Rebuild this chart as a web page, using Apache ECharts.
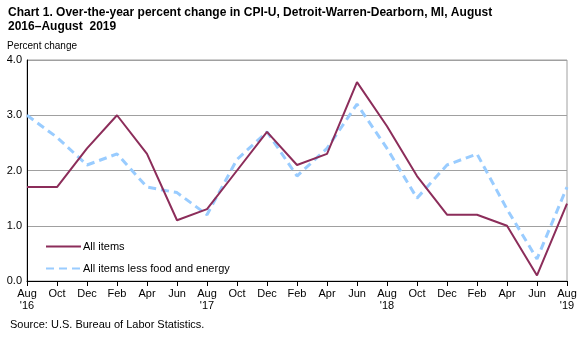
<!DOCTYPE html>
<html>
<head>
<meta charset="utf-8">
<script src="https://cdn.jsdelivr.net/npm/echarts@6/dist/echarts.min.js"></script>
<style>
  html, body { margin: 0; padding: 0; background: #fff; }
  #chart { width: 587px; height: 337px; }
</style>
</head>
<body>
<div id="chart"></div>
<script>
// Bimonthly periods, August 2016 through August 2019
const periods = ['Aug\n\'16', 'Oct', 'Dec', 'Feb', 'Apr', 'Jun', 'Aug\n\'17', 'Oct', 'Dec', 'Feb',
                 'Apr', 'Jun', 'Aug\n\'18', 'Oct', 'Dec', 'Feb', 'Apr', 'Jun', 'Aug\n\'19'];

// Over-the-year percent change
const allItems = [1.7, 1.7, 2.4, 3.0, 2.3, 1.1, 1.3, 2.0, 2.7, 2.1, 2.3, 3.6, 2.8, 1.9, 1.2, 1.2, 1.0, 0.1, 1.4];
const coreItems = [3.0, 2.6, 2.1, 2.3, 1.7, 1.6, 1.2, 2.2, 2.7, 1.9, 2.4, 3.2, 2.4, 1.5, 2.1, 2.3, 1.3, 0.4, 1.7];

const seriesNames = ['All items', 'All items less food and energy'];

const FONT = 'Liberation Sans, Arial, sans-serif';

const chart = echarts.init(document.getElementById('chart'), null, { renderer: 'canvas' });

chart.setOption({
  backgroundColor: '#ffffff',
  animation: false,
  graphic: [
    {
      // Two-line heading, set slightly condensed
      type: 'text', x: 8, y: 6, scaleX: 0.89, originX: 0, originY: 0,
      style: {
        text: 'Chart 1. Over-the-year percent change in CPI-U, Detroit-Warren-Dearborn, MI, August\n2016\u2013August  2019',
        font: 'bold 13.5px ' + FONT, fill: '#000', lineHeight: 13.5,
        verticalAlign: 'top'
      }
    },
    {
      type: 'text', left: 7, top: 41,
      style: { text: 'Percent change', font: '10px ' + FONT, fill: '#000' }
    },
    {
      type: 'text', left: 10, top: 319,
      style: { text: 'Source: U.S. Bureau of Labor Statistics.', font: '11px ' + FONT, fill: '#000' }
    }
  ],
  legend: {
    orient: 'vertical',
    left: 45,
    top: 241,
    padding: 0,
    itemWidth: 35,
    itemHeight: 12,
    itemGap: 11,
    itemStyle: { opacity: 0 },
    textStyle: { fontFamily: FONT, fontSize: 11, color: '#000', padding: [0, 0, 0, -3] },
    data: seriesNames
  },
  grid: {
    left: 27, right: 20, top: 60, bottom: 56,
    show: true, borderColor: '#a0a0a0', borderWidth: 1
  },
  xAxis: {
    type: 'category',
    data: periods,
    boundaryGap: false,
    axisLine: { lineStyle: { color: '#000', width: 1 } },
    axisTick: { length: 5, lineStyle: { color: '#000' }, alignWithLabel: true },
    axisLabel: { fontFamily: FONT, fontSize: 11, color: '#000', margin: 7, lineHeight: 12, interval: 0 },
    splitLine: { show: false }
  },
  yAxis: {
    type: 'value',
    min: 0, max: 4, interval: 1,
    axisLine: { show: true, lineStyle: { color: '#000', width: 1 } },
    axisTick: { show: false },
    axisLabel: { fontFamily: FONT, fontSize: 11, color: '#000', margin: 5, formatter: v => v.toFixed(1) },
    splitLine: { lineStyle: { color: '#a0a0a0', width: 1 } }
  },
  series: [
    {
      name: seriesNames[0],
      type: 'line',
      data: allItems,
      symbol: 'none',
      z: 3,
      lineStyle: { color: '#8c2d5a', width: 2 },
      itemStyle: { color: '#8c2d5a' }
    },
    {
      name: seriesNames[1],
      type: 'line',
      data: coreItems,
      symbol: 'none',
      z: 2,
      lineStyle: { color: '#99ccff', width: 3, type: [8, 5] },
      itemStyle: { color: '#99ccff' }
    }
  ]
});
</script>
</body>
</html>
